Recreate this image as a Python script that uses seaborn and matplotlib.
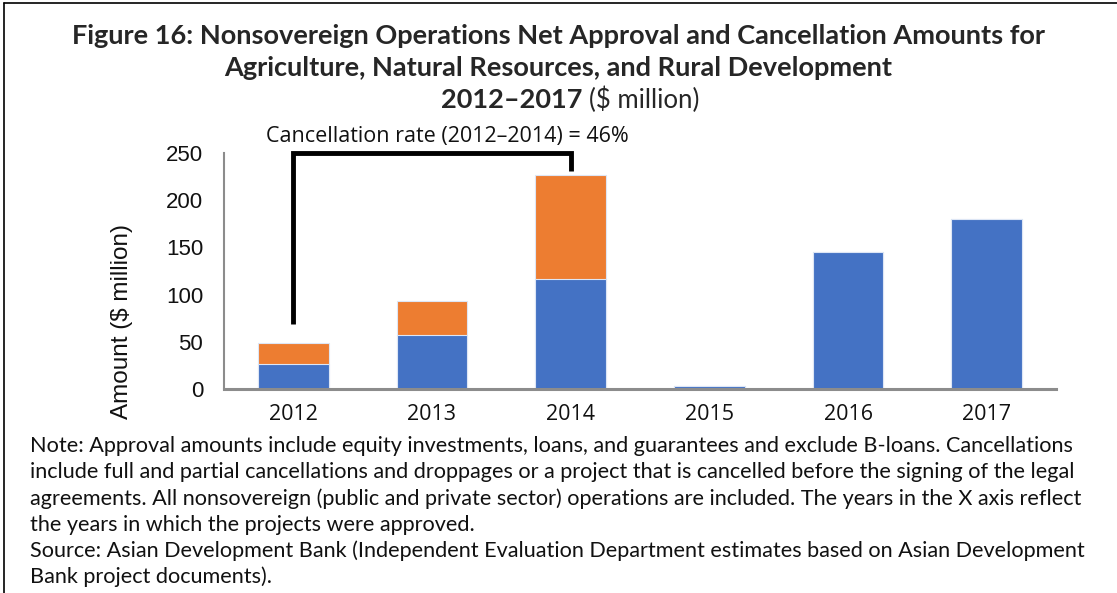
import pandas as pd
import matplotlib
matplotlib.use("Agg")
import matplotlib.pyplot as plt
from matplotlib.lines import Line2D
import seaborn as sns

# values ($ million)
years = ['2012', '2013', '2014', '2015', '2016', '2017']
net_approval = [27, 57, 116, 3, 145, 180]
cancellation = [22, 36, 111, 0, 0, 0]

df = pd.DataFrame({'year': years, 'net': net_approval, 'cancel': cancellation})
df['total'] = df['net'] + df['cancel']

blue = '#4472C4'
orange = '#ED7D31'
narrow = ['Lato', 'DejaVu Sans']
segoe = ['Open Sans', 'DejaVu Sans']

sns.set_theme(style="white")
plt.rcParams['font.family'] = ['Liberation Sans', 'DejaVu Sans']

fig = plt.figure(figsize=(11.17, 5.93), dpi=100)
ax = fig.add_axes([0.2005, 0.344, 0.745, 0.398])

sns.barplot(data=df, x='year', y='total', color=orange, width=0.51,
            edgecolor='#dde6f5', linewidth=0.8, saturation=1, ax=ax)
sns.barplot(data=df, x='year', y='net', color=blue, width=0.51,
            edgecolor='#dde6f5', linewidth=0.8, saturation=1, ax=ax)

ax.set_ylim(0, 250)
ax.set_xlim(-0.5, 5.5)
ax.set_yticks([0, 50, 100, 150, 200, 250])
ax.tick_params(axis='both', length=0, colors='#111111')
ax.tick_params(axis='y', pad=15, labelsize=16)
ax.tick_params(axis='x', pad=11, labelsize=15.5)
for lab in ax.get_xticklabels():
    lab.set_family(segoe)
ax.set_xlabel('')
ax.set_ylabel('Amount ($ million)', fontsize=17.5, color='#111111')
ax.yaxis.set_label_coords(-0.109, 0.288)
for s in ['top', 'right']:
    ax.spines[s].set_visible(False)
ax.spines['left'].set_color('#8c8c8c')
ax.spines['left'].set_linewidth(1.5)
ax.spines['bottom'].set_color('#8c8c8c')
ax.spines['bottom'].set_linewidth(2.2)

# bracket for cancellation rate 2012-2014
bx = [0, 0, 2, 2]
by = [69, 250, 250, 231]
ax.plot(bx, by, color='black', linewidth=3.5, clip_on=False, solid_capstyle='butt',
        solid_joinstyle='miter')
ax.text(1.11, 256, 'Cancellation rate (2012\u20132014) = 46%', ha='center', va='bottom',
        fontsize=15.5, family=segoe, color='#111111')

# title
fig.text(0.5, 1 - 36 / 593, 'Figure 16: Nonsovereign Operations Net Approval and Cancellation Amounts for',
         ha='center', va='center', fontsize=19.5, fontweight='bold', family=narrow)
fig.text(0.5, 1 - 68 / 593, 'Agriculture, Natural Resources, and Rural Development',
         ha='center', va='center', fontsize=19.5, fontweight='bold', family=narrow)
fig.text(582 / 1117, 1 - 100 / 593, '2012\u20132017', ha='right', va='center',
         fontsize=19.5, fontweight='bold', family=narrow)
fig.text(589 / 1117, 1 - 100 / 593, '($ million)', ha='left', va='center',
         fontsize=18.5, family=narrow)

# notes
notes = [
    'Note: Approval amounts include equity investments, loans, and guarantees and exclude B-loans. Cancellations',
    'include full and partial cancellations and droppages or a project that is cancelled before the signing of the legal',
    'agreements. All nonsovereign (public and private sector) operations are included. The years in the X axis reflect',
    'the years in which the projects were approved.',
    'Source: Asian Development Bank (Independent Evaluation Department estimates based on Asian Development',
    'Bank project documents).',
]
for i, line in enumerate(notes):
    fig.text(30 / 1117, 1 - (446 + i * 26.2) / 593, line, ha='left', va='center',
             fontsize=15.6, family=narrow, color='#111111')

# frame lines
fig.add_artist(Line2D([4 / 1117, 4 / 1117], [0, 1 - 3 / 593], color='black', linewidth=1.2))
fig.add_artist(Line2D([4 / 1117, 1], [1 - 3 / 593, 1 - 3 / 593], color='black', linewidth=1.2))

fig.savefig('out.png', dpi=100)
